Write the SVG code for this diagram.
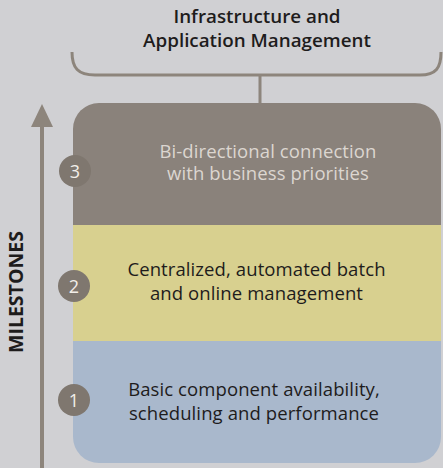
<svg xmlns="http://www.w3.org/2000/svg" width="443" height="468" viewBox="0 0 443 468">
<defs>
<style>
.title{font-family:"Open Sans","Liberation Sans",sans-serif;font-weight:600;font-size:18.8px;fill:#1e1c1c;text-anchor:middle}
.lbl{font-family:"Open Sans","Liberation Sans",sans-serif;font-size:18.5px;letter-spacing:0.1px;text-anchor:middle}
.num{font-family:"Open Sans","Liberation Sans",sans-serif;font-size:18px;fill:#f2eeea;text-anchor:middle}
.badge{fill:#7f776f}
</style>
<clipPath id="boxclip"><rect x="73" y="103" width="368" height="360" rx="26" ry="26"/></clipPath>
</defs>
<rect width="443" height="468" fill="#d0d0d3"/>
<g id="title">
<text class="title" x="257" y="23">Infrastructure and</text>
<text class="title" x="257" y="47">Application Management</text>
</g>
<g id="connectors" fill="none" stroke="#8d857c">
<path d="M72 52 C72 68 78 75 95 75 L420 75 C436 75 441 68 441 52" stroke-width="3"/>
<line x1="260" y1="75" x2="260" y2="103" stroke-width="3"/>
<line x1="42" y1="122" x2="42" y2="468" stroke-width="4"/>
<polygon points="42,104 31,127 53,127" fill="#8d857c" stroke="none"/>
</g>
<g id="milestones-label">
<text x="23" y="292" transform="rotate(-90 23 292)" style="font-family:'Open Sans','Liberation Sans',sans-serif;font-weight:700;font-size:19.5px;fill:#1e1c1c;text-anchor:middle">MILESTONES</text>
</g>
<g id="stack" clip-path="url(#boxclip)">
<rect x="73" y="103" width="368" height="122" fill="#8a827b"/>
<rect x="73" y="225" width="368" height="117" fill="#d8d08f"/>
<rect x="73" y="341" width="368" height="122" fill="#a9b8cc"/>
</g>
<g id="level3">
<text class="lbl" x="268" y="157.5" fill="#dcd6d0">Bi-directional connection</text>
<text class="lbl" x="268" y="180" fill="#dcd6d0">with business priorities</text>
<circle class="badge" cx="75" cy="171" r="16"/>
<text class="num" x="75" y="177.5">3</text>
</g>
<g id="level2">
<text class="lbl" x="256.5" y="276" fill="#1e1c1c">Centralized, automated batch</text>
<text class="lbl" x="256.5" y="300" fill="#1e1c1c">and online management</text>
<circle class="badge" cx="74" cy="286" r="16"/>
<text class="num" x="74" y="292.5">2</text>
</g>
<g id="level1">
<text class="lbl" x="254" y="396" fill="#1e1c1c">Basic component availability,</text>
<text class="lbl" x="254" y="420" fill="#1e1c1c">scheduling and performance</text>
<circle class="badge" cx="74" cy="400" r="16"/>
<text class="num" x="74" y="406.5">1</text>
</g>
</svg>
